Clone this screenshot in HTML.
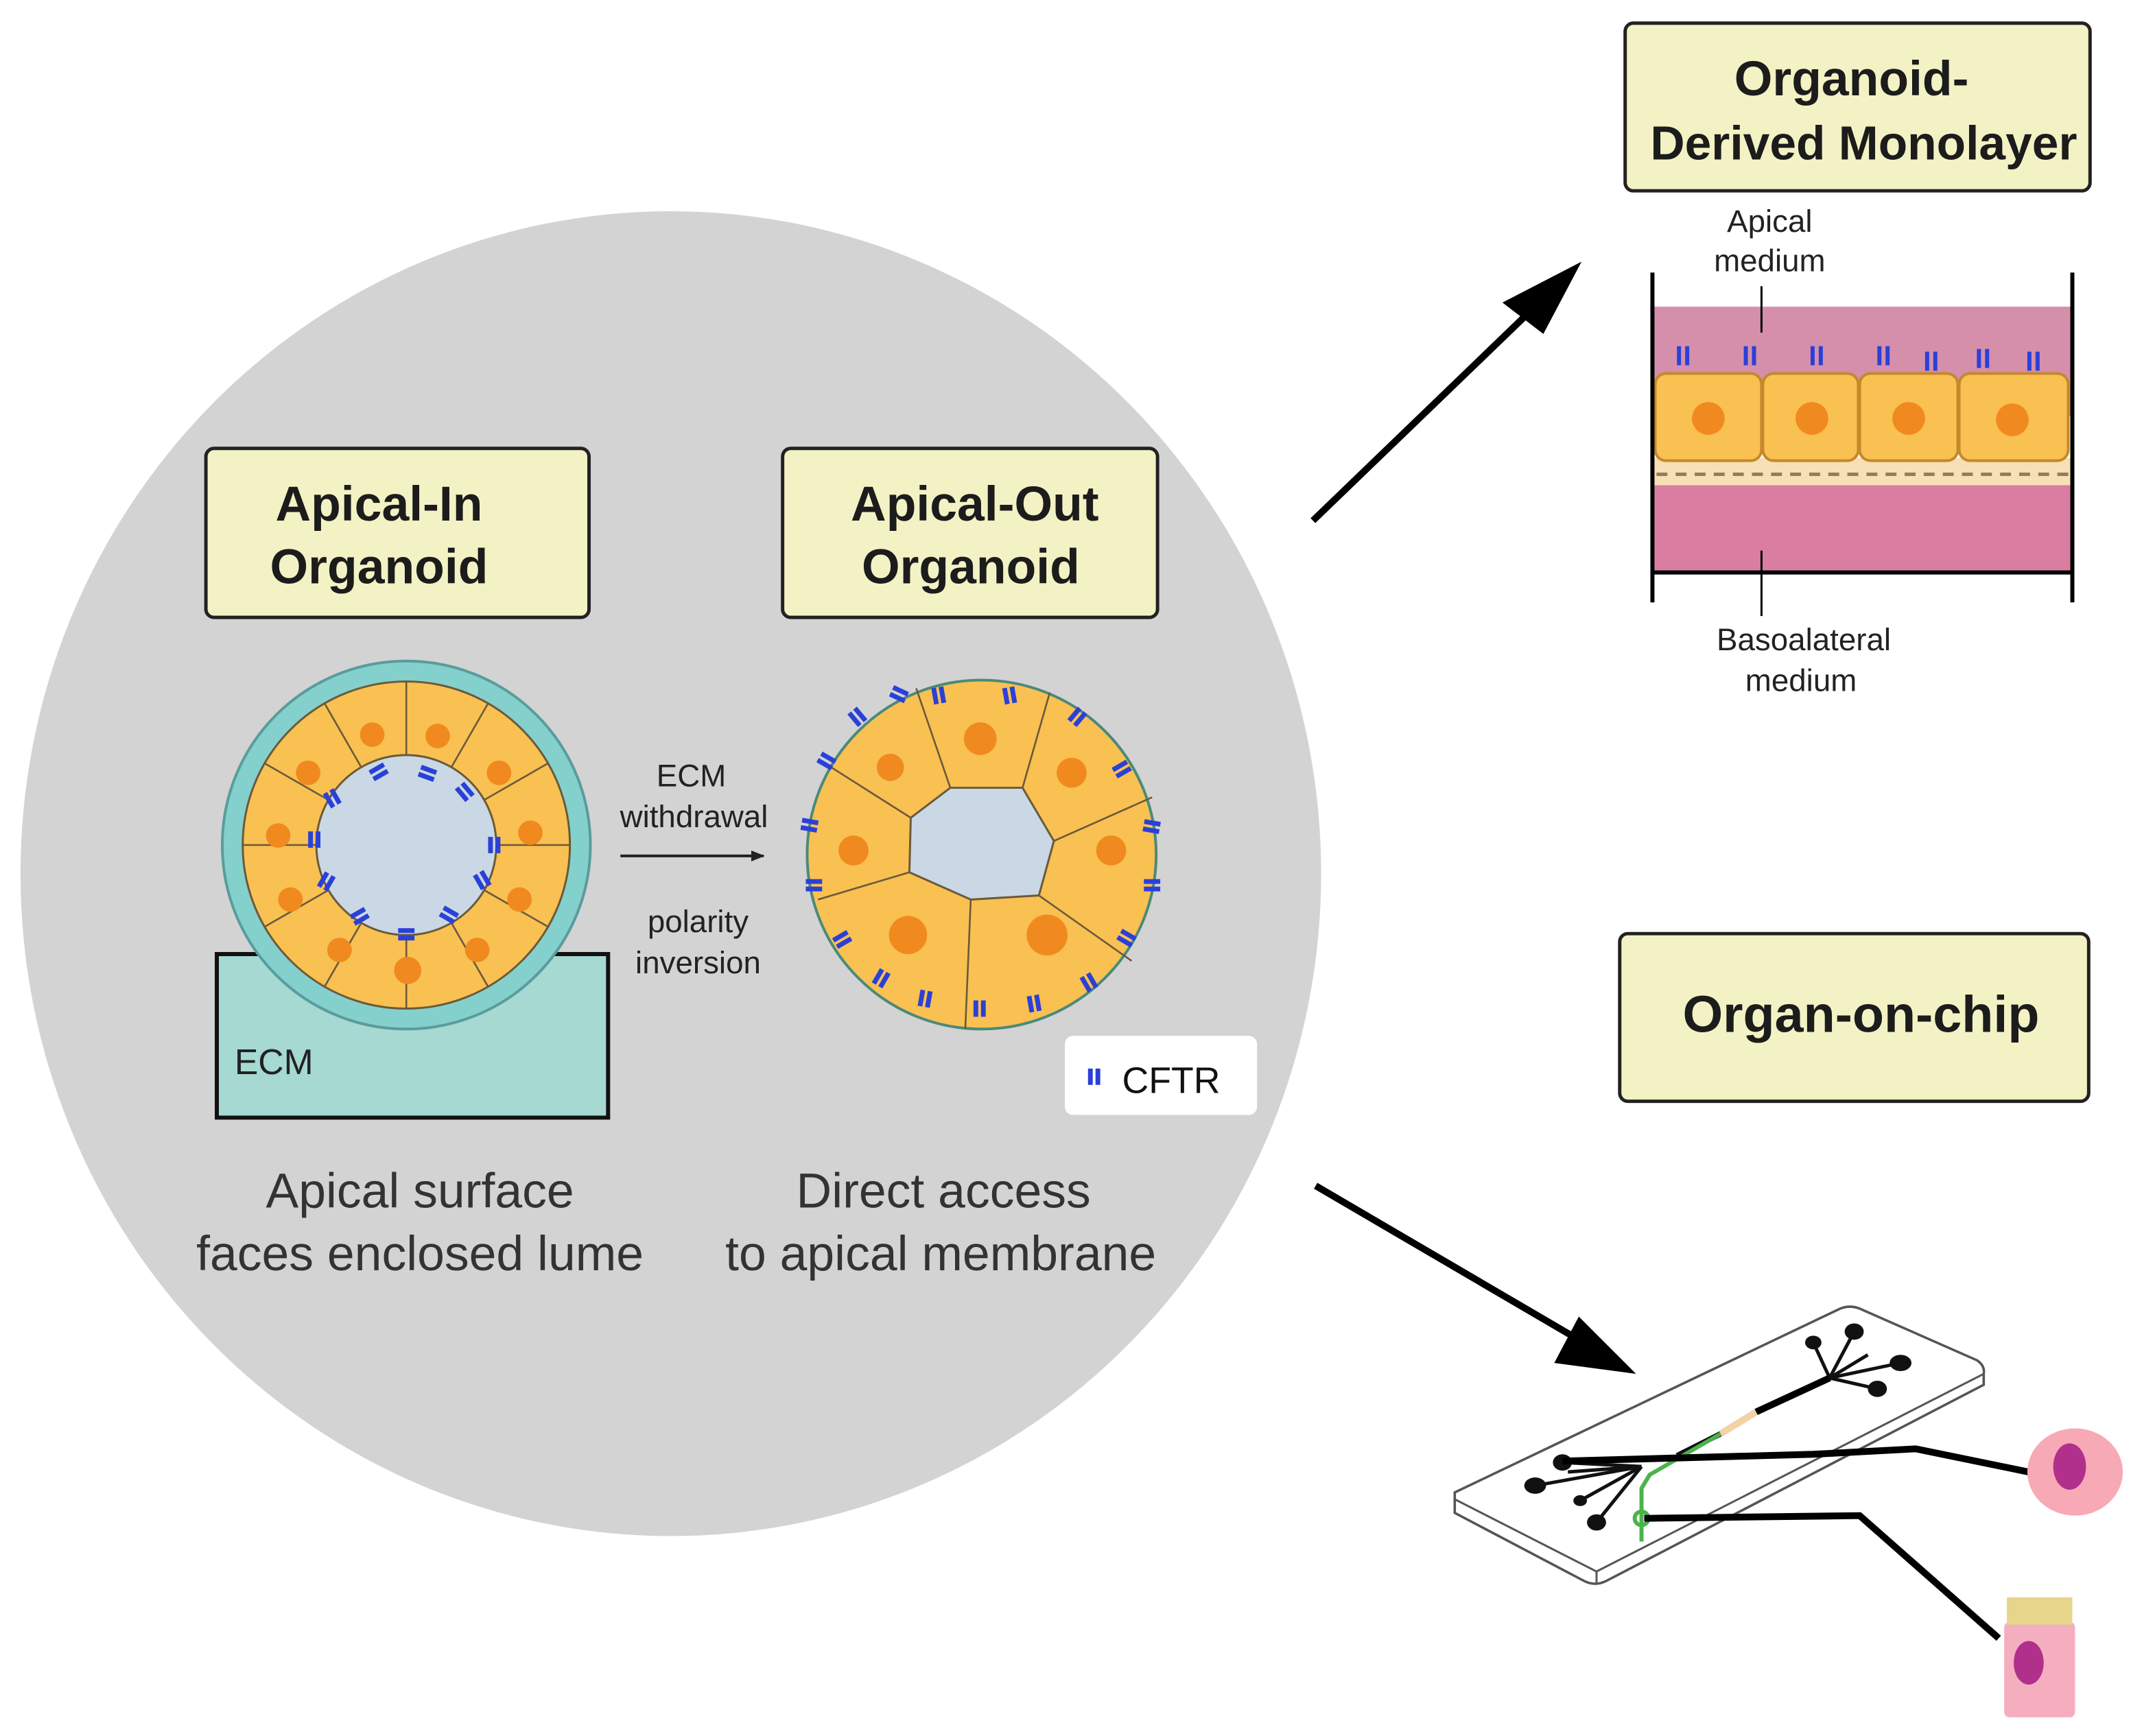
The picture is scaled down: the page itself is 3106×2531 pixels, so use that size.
<!DOCTYPE html>
<html><head><meta charset="utf-8"><style>
html,body{margin:0;padding:0;background:#fff}
svg{display:block}
text{font-family:"Liberation Sans","DejaVu Sans",sans-serif}
</style></head><body>
<svg width="3106" height="2531" viewBox="0 0 1563 1273.7" xmlns="http://www.w3.org/2000/svg">
<defs>
<marker id="ah" markerWidth="10" markerHeight="10" refX="9" refY="5" orient="auto" markerUnits="userSpaceOnUse"><path d="M0,1 L10,5 L0,9 z" fill="#222"/></marker>
<g id="cf"><rect x="-6" y="-3" width="12" height="3.5" fill="#2a40d8"/><rect x="-6" y="2.5" width="12" height="3.5" fill="#2a40d8"/></g>
</defs>
<rect width="1563" height="1274" fill="#fff"/>
<ellipse cx="492" cy="641" rx="477" ry="486" fill="#d3d3d3"/>

<!-- boxes -->
<rect x="151" y="329" width="281" height="124" rx="6" fill="#f3f2c4" stroke="#222" stroke-width="2.5"/>
<text x="278" y="382" font-size="36" font-weight="bold" text-anchor="middle" fill="#1c1c1c">Apical-In</text>
<text x="278" y="428" font-size="36" font-weight="bold" text-anchor="middle" fill="#1c1c1c">Organoid</text>
<rect x="574" y="329" width="275" height="124" rx="6" fill="#f3f2c4" stroke="#222" stroke-width="2.5"/>
<text x="715" y="382" font-size="36" font-weight="bold" text-anchor="middle" fill="#1c1c1c">Apical-Out</text>
<text x="712" y="428" font-size="36" font-weight="bold" text-anchor="middle" fill="#1c1c1c">Organoid</text>
<rect x="1192" y="17" width="341" height="123" rx="6" fill="#f3f2c4" stroke="#222" stroke-width="2.5"/>
<text x="1358" y="70" font-size="36" font-weight="bold" text-anchor="middle" fill="#1c1c1c">Organoid-</text>
<text x="1367" y="117" font-size="35" font-weight="bold" text-anchor="middle" fill="#1c1c1c">Derived Monolayer</text>
<rect x="1188" y="685" width="344" height="123" rx="6" fill="#f3f2c4" stroke="#222" stroke-width="2.5"/>
<text x="1365" y="757" font-size="38" font-weight="bold" text-anchor="middle" fill="#1c1c1c">Organ-on-chip</text>

<!-- ECM block -->
<path d="M200,700 L159,700 L159,820 L446,820 L446,700 L400,700" fill="#a5d9d2" stroke="#111" stroke-width="3"/>
<rect x="161" y="702" width="283" height="116" fill="#a5d9d2"/>
<text x="172" y="788" font-size="26" fill="#222">ECM</text>

<!-- apical in organoid -->
<circle cx="298" cy="620" r="135" fill="#84d0cc" stroke="#5a9c9c" stroke-width="2"/>
<circle cx="298" cy="620" r="120" fill="#f9c052" stroke="#6a5a3a" stroke-width="1.5"/>
<circle cx="298" cy="620" r="66" fill="#c9d8e4" stroke="#6a5a3a" stroke-width="1.5"/>
<g stroke="#6a5a3a" stroke-width="1.3">
<line x1="364" y1="620" x2="418" y2="620"/><line x1="355" y1="653" x2="402" y2="680"/><line x1="331" y1="677" x2="358" y2="724"/><line x1="298" y1="686" x2="298" y2="740"/><line x1="265" y1="677" x2="238" y2="724"/><line x1="241" y1="653" x2="194" y2="680"/><line x1="232" y1="620" x2="178" y2="620"/><line x1="241" y1="587" x2="194" y2="560"/><line x1="265" y1="563" x2="238" y2="516"/><line x1="298" y1="554" x2="298" y2="500"/><line x1="331" y1="563" x2="358" y2="516"/><line x1="355" y1="587" x2="402" y2="560"/>
</g>
<g fill="#f08a1e">
<circle cx="389" cy="611" r="9"/><circle cx="381" cy="660" r="9"/><circle cx="350" cy="697" r="9"/><circle cx="299" cy="712" r="10"/><circle cx="249" cy="697" r="9"/><circle cx="213" cy="660" r="9"/><circle cx="204" cy="613" r="9"/><circle cx="226" cy="567" r="9"/><circle cx="273" cy="539" r="9"/><circle cx="321" cy="540" r="9"/><circle cx="366" cy="567" r="9"/>
</g>
<g>
<use href="#cf" transform="translate(364,620) rotate(90)"/><use href="#cf" transform="translate(355,645) rotate(60)"/><use href="#cf" transform="translate(330,670) rotate(30)"/><use href="#cf" transform="translate(298,684)"/><use href="#cf" transform="translate(263,671) rotate(-30)"/><use href="#cf" transform="translate(238,646) rotate(-60)"/><use href="#cf" transform="translate(232,616) rotate(90)"/><use href="#cf" transform="translate(245,585) rotate(60)"/><use href="#cf" transform="translate(277,565) rotate(-30)"/><use href="#cf" transform="translate(314,566) rotate(20)"/><use href="#cf" transform="translate(342,580) rotate(50)"/>
</g>

<!-- arrow between -->
<line x1="455" y1="628" x2="560" y2="628" stroke="#222" stroke-width="2" marker-end="url(#ah)"/>
<text x="507" y="577" font-size="23" text-anchor="middle" fill="#222">ECM</text>
<text x="509" y="607" font-size="23" text-anchor="middle" fill="#222">withdrawal</text>
<text x="512" y="684" font-size="23" text-anchor="middle" fill="#222">polarity</text>
<text x="512" y="714" font-size="23" text-anchor="middle" fill="#222">inversion</text>

<!-- apical out organoid -->
<circle cx="720" cy="627" r="128" fill="#f9c052" stroke="#4a8a7a" stroke-width="2"/>
<polygon points="697,578 750,578 773,617 762,657 712,660 667,640 668,600" fill="#c9d8e4" stroke="#6a5a3a" stroke-width="1.5"/>
<g stroke="#6a5a3a" stroke-width="1.3" fill="none">
<line x1="697" y1="578" x2="672" y2="505"/><line x1="750" y1="578" x2="770" y2="508"/><line x1="773" y1="617" x2="845" y2="585"/><line x1="762" y1="657" x2="830" y2="705"/><line x1="712" y1="660" x2="708" y2="755"/><line x1="667" y1="640" x2="600" y2="660"/><line x1="668" y1="600" x2="605" y2="560"/>
</g>
<g fill="#f08a1e">
<circle cx="719" cy="542" r="12"/><circle cx="786" cy="567" r="11"/><circle cx="815" cy="624" r="11"/><circle cx="768" cy="686" r="15"/><circle cx="666" cy="686" r="14"/><circle cx="626" cy="624" r="11"/><circle cx="653" cy="563" r="10"/>
</g>
<g>
<use href="#cf" transform="translate(660,508) rotate(25)"/><use href="#cf" transform="translate(690,510) rotate(80)"/><use href="#cf" transform="translate(742,510) rotate(80)"/><use href="#cf" transform="translate(789,525) rotate(-50)"/><use href="#cf" transform="translate(822,563) rotate(-30)"/><use href="#cf" transform="translate(845,605) rotate(10)"/><use href="#cf" transform="translate(845,648) rotate(0)"/><use href="#cf" transform="translate(827,687) rotate(30)"/><use href="#cf" transform="translate(800,720) rotate(60)"/><use href="#cf" transform="translate(760,736) rotate(80)"/><use href="#cf" transform="translate(720,740) rotate(90)"/><use href="#cf" transform="translate(680,733) rotate(100)"/><use href="#cf" transform="translate(645,717) rotate(-60)"/><use href="#cf" transform="translate(617,688) rotate(-30)"/><use href="#cf" transform="translate(597,648) rotate(0)"/><use href="#cf" transform="translate(594,604) rotate(10)"/><use href="#cf" transform="translate(607,557) rotate(30)"/><use href="#cf" transform="translate(630,525) rotate(50)"/>
</g>

<!-- CFTR legend -->
<rect x="781" y="760" width="141" height="58" rx="6" fill="#fff"/>
<use href="#cf" transform="translate(804,790) rotate(90)"/>
<text x="823" y="802" font-size="27" fill="#111">CFTR</text>

<text x="308" y="886" font-size="36" text-anchor="middle" fill="#333">Apical surface</text>
<text x="308" y="932" font-size="36" text-anchor="middle" fill="#333">faces enclosed lume</text>
<text x="692" y="886" font-size="36" text-anchor="middle" fill="#333">Direct access</text>
<text x="690" y="932" font-size="36" text-anchor="middle" fill="#333">to apical membrane</text>

<!-- big arrows -->
<line x1="963" y1="382" x2="1130" y2="221" stroke="#000" stroke-width="5"/>
<polygon points="1160,192 1102,222 1132,245" fill="#000"/>
<line x1="965" y1="870" x2="1170" y2="990" stroke="#000" stroke-width="5"/>
<polygon points="1200,1008 1140,1000 1158,966" fill="#000"/>

<!-- monolayer -->
<text x="1298" y="170" font-size="23" text-anchor="middle" fill="#222">Apical</text>
<text x="1298" y="199" font-size="23" text-anchor="middle" fill="#222">medium</text>
<rect x="1212" y="225" width="308" height="80" fill="#d58fab"/>
<rect x="1212" y="336" width="308" height="20" fill="#f7dfb6"/>
<line x1="1215" y1="348" x2="1518" y2="348" stroke="#9a7a5a" stroke-width="2.5" stroke-dasharray="8,6"/>
<rect x="1212" y="356" width="308" height="64" fill="#d97ea0"/>
<g fill="#f9c052" stroke="#c4892a" stroke-width="2">
<rect x="1214" y="274" width="78" height="64" rx="8"/><rect x="1293" y="274" width="70" height="64" rx="8"/><rect x="1364" y="274" width="72" height="64" rx="8"/><rect x="1437" y="274" width="80" height="64" rx="8"/>
</g>
<g fill="#f08a1e"><circle cx="1253" cy="307" r="12"/><circle cx="1329" cy="307" r="12"/><circle cx="1400" cy="307" r="12"/><circle cx="1476" cy="308" r="12"/></g>
<g fill="#2a40d8">
<g transform="translate(1234,262)"><rect x="-4" y="-8" width="3" height="14"/><rect x="2" y="-8" width="3" height="14"/></g>
<g transform="translate(1283,262)"><rect x="-4" y="-8" width="3" height="14"/><rect x="2" y="-8" width="3" height="14"/></g>
<g transform="translate(1332,262)"><rect x="-4" y="-8" width="3" height="14"/><rect x="2" y="-8" width="3" height="14"/></g>
<g transform="translate(1381,262)"><rect x="-4" y="-8" width="3" height="14"/><rect x="2" y="-8" width="3" height="14"/></g>
<g transform="translate(1416,266)"><rect x="-4" y="-8" width="3" height="14"/><rect x="2" y="-8" width="3" height="14"/></g>
<g transform="translate(1454,264)"><rect x="-4" y="-8" width="3" height="14"/><rect x="2" y="-8" width="3" height="14"/></g>
<g transform="translate(1491,266)"><rect x="-4" y="-8" width="3" height="14"/><rect x="2" y="-8" width="3" height="14"/></g>
</g>
<line x1="1212" y1="200" x2="1212" y2="442" stroke="#000" stroke-width="3"/>
<line x1="1520" y1="200" x2="1520" y2="442" stroke="#000" stroke-width="3"/>
<line x1="1212" y1="420" x2="1520" y2="420" stroke="#000" stroke-width="3"/>
<line x1="1292" y1="210" x2="1292" y2="244" stroke="#000" stroke-width="1.5"/>
<line x1="1292" y1="404" x2="1292" y2="452" stroke="#000" stroke-width="1.5"/>
<text x="1323" y="477" font-size="23" text-anchor="middle" fill="#222">Basoalateral</text>
<text x="1321" y="507" font-size="23" text-anchor="middle" fill="#222">medium</text>

<!-- chip -->
<path d="M1067,1095 L1350,960 Q1358,957 1366,961 L1450,998 Q1456,1002 1455,1008 L1455,1016 L1178,1160 Q1170,1164 1162,1160 L1067,1110 Z" fill="#fff" stroke="#555" stroke-width="1.8"/>
<path d="M1067,1100 L1171,1153 L1455,1008" fill="none" stroke="#555" stroke-width="1.5"/>
<line x1="1171" y1="1153" x2="1171" y2="1162" stroke="#555" stroke-width="1.5"/>
<g stroke="#111" stroke-width="2.5" fill="none">
<path d="M1342,1011 L1360,977"/><path d="M1342,1011 L1330,985"/><path d="M1342,1011 L1394,1000"/><path d="M1342,1011 L1377,1019"/><path d="M1342,1011 L1370,994"/>
<path d="M1204,1076 L1146,1073"/><path d="M1204,1076 L1126,1090"/><path d="M1204,1076 L1159,1101"/><path d="M1204,1076 L1171,1117"/><path d="M1204,1076 L1150,1080"/>
</g>
<line x1="1288" y1="1036" x2="1342" y2="1011" stroke="#000" stroke-width="5"/>
<line x1="1262" y1="1052" x2="1288" y2="1036" stroke="#f2d3a6" stroke-width="5"/>
<line x1="1230" y1="1068" x2="1262" y2="1052" stroke="#111" stroke-width="4"/>
<path d="M1262,1052 L1210,1082 L1204,1092 L1204,1131" fill="none" stroke="#4cb34c" stroke-width="3"/>
<circle cx="1204" cy="1114" r="5" fill="none" stroke="#4cb34c" stroke-width="3"/>
<g fill="#111">
<ellipse cx="1360" cy="977" rx="7" ry="6"/><ellipse cx="1330" cy="985" rx="6" ry="5"/><ellipse cx="1394" cy="1000" rx="8" ry="6"/><ellipse cx="1377" cy="1019" rx="7" ry="6"/>
<ellipse cx="1146" cy="1073" rx="7" ry="6"/><ellipse cx="1126" cy="1090" rx="8" ry="6"/><ellipse cx="1159" cy="1101" rx="5" ry="4"/><ellipse cx="1171" cy="1117" rx="7" ry="6"/>
</g>
<path d="M1146,1072 L1330,1067 L1405,1063 L1488,1080" fill="none" stroke="#000" stroke-width="5"/>
<path d="M1206,1114 L1364,1112 L1466,1202" fill="none" stroke="#000" stroke-width="5"/>
<!-- cells -->
<ellipse cx="1522" cy="1080" rx="35" ry="32" fill="#f7a9b5"/>
<ellipse cx="1518" cy="1076" rx="12" ry="17" fill="#b0308c"/>
<rect x="1470" y="1190" width="52" height="70" rx="4" fill="#f5aec0"/>
<rect x="1472" y="1172" width="48" height="20" fill="#e6d58a"/>
<ellipse cx="1488" cy="1220" rx="11" ry="16" fill="#b0308c"/>
</svg>
</body></html>
